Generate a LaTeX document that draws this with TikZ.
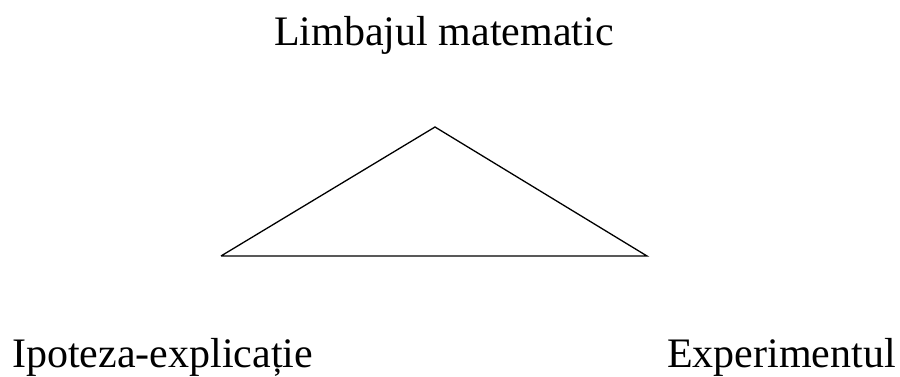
\documentclass[tikz,border=0pt]{standalone}
\usepackage{fontspec}
\setmainfont{Liberation Serif}
\usetikzlibrary{positioning}
\tikzset{
  label/.style = {inner sep=0pt, anchor=base, font=\fontsize{42}{48}\selectfont},
  edge/.style  = {line width=1.3pt, line cap=butt},
}
\begin{document}
\begin{tikzpicture}[x=1pt, y=-1pt]
  \useasboundingbox (0,0) rectangle (900,377);
  \node[label] (lim) at (444,46) {Limbajul matematic};
  \node[label, anchor=base west] (ipo) at (12,367) {Ipoteza-explicație};
  \node[label, anchor=base east] (exp) at (896,367) {Experimentul};
  \coordinate (top) at (435,127);
  \coordinate (lft) at (221,256);
  \coordinate (rgt) at (647,256);
  \draw[edge] (lft) -- (top) -- (rgt) -- (lft);
\end{tikzpicture}
\end{document}
